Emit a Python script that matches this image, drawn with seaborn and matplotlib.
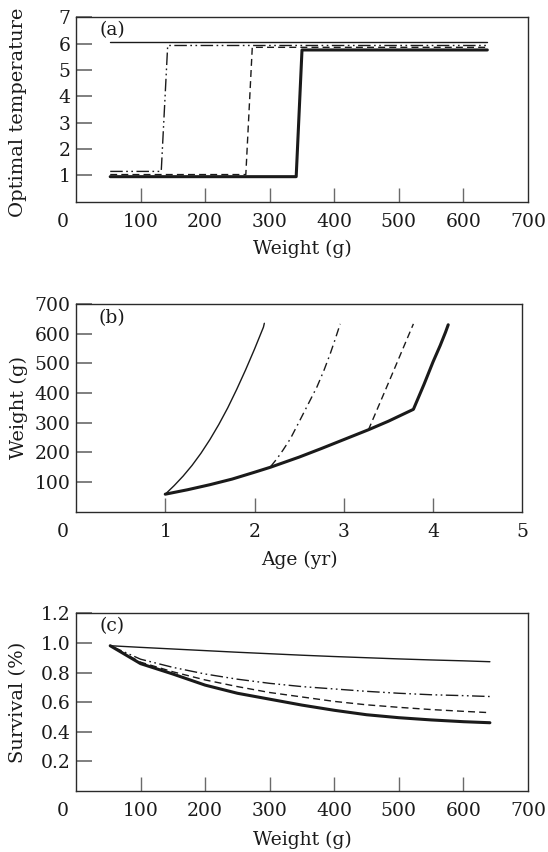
import numpy as np
import pandas as pd
import matplotlib
matplotlib.use("Agg")
import matplotlib.pyplot as plt
import matplotlib.transforms as mtransforms
import seaborn as sns

sns.set_theme(style="white")
plt.rcParams['font.family'] = ['DejaVu Serif']

# ---------------- data ----------------
# (a) optimal temperature vs weight
a_thin_x = [53, 637]
a_thin_y = [6.05, 6.05]
a_dd_x = [53, 132, 142, 637]
a_dd_y = [1.15, 1.15, 5.93, 5.93]
a_dash_x = [53, 263, 273, 637]
a_dash_y = [1.03, 1.03, 5.86, 5.86]
a_thick_x = [53, 341, 350, 637]
a_thick_y = [0.95, 0.95, 5.76, 5.76]

# (b) weight vs age
b_thin_age = [1.0, 1.1, 1.2, 1.3, 1.4, 1.5, 1.6, 1.7, 1.8, 1.9, 2.0, 2.1, 2.11]
b_thin_w = [59, 88, 120, 156, 197, 243, 294, 350, 412, 478, 548, 622, 635]
b_dd_age = [2.18, 2.25, 2.32, 2.4, 2.51, 2.6, 2.70, 2.78, 2.85, 2.9, 2.96]
b_dd_w = [152, 178, 208, 245, 309, 362, 421, 478, 534, 578, 633]
b_dash_age = [3.275, 3.53, 3.78]
b_dash_w = [275, 455, 633]
b_thick_age = [1.0, 1.25, 1.5, 1.75, 2.0, 2.18, 2.5, 2.75, 3.0, 3.275, 3.5, 3.78,
               3.9, 4.0, 4.08, 4.14, 4.17]
b_thick_w = [59, 74, 91, 110, 133, 150, 184, 213, 243, 276, 305, 345,
             430, 505, 560, 605, 630]

# (c) survival vs weight
c_w = [53, 100, 150, 200, 250, 300, 350, 400, 450, 500, 550, 600, 641]
c_thin = [0.981, 0.970, 0.959, 0.948, 0.937, 0.927, 0.917, 0.908, 0.900, 0.892, 0.885, 0.879, 0.873]
c_dd = [0.981, 0.890, 0.835, 0.790, 0.755, 0.727, 0.705, 0.689, 0.673, 0.660, 0.650, 0.644, 0.638]
c_dash = [0.981, 0.870, 0.805, 0.750, 0.705, 0.665, 0.635, 0.605, 0.582, 0.565, 0.550, 0.538, 0.529]
c_thick = [0.981, 0.860, 0.790, 0.715, 0.660, 0.620, 0.580, 0.545, 0.515, 0.495, 0.480, 0.468, 0.461]

INK = "#1a1a1a"
TICK = "#6a6a6a"
DD = (0, (9, 2.5, 1.2, 2.5, 1.2, 2.5))
DASHDOT = (0, (6, 3, 1.2, 3))
DASH = (0, (5, 3))

fig = plt.figure(figsize=(5.48, 8.52), dpi=100)
L = 76 / 548
R = 528 / 548
Rb = 522.3 / 548
axA = fig.add_axes([L, 1 - 201.7 / 852, R - L, (201.7 - 17.3) / 852])
axB = fig.add_axes([L, 1 - 511.7 / 852, Rb - L, (511.7 - 304) / 852])
axC = fig.add_axes([L, 1 - 791 / 852, R - L, (791 - 613.3) / 852])

def draw(ax, x, y, lw, ls):
    df = pd.DataFrame({"x": x, "y": y})
    sns.lineplot(data=df, x="x", y="y", ax=ax, color=INK, lw=lw,
                 linestyle=ls, sort=False, estimator=None)

# panel a
draw(axA, a_thin_x, a_thin_y, 1.0, "-")
draw(axA, a_dd_x, a_dd_y, 1.0, DD)
draw(axA, a_dash_x, a_dash_y, 1.0, DASH)
draw(axA, a_thick_x, a_thick_y, 2.2, "-")

# panel b
draw(axB, b_thin_age, b_thin_w, 1.0, "-")
draw(axB, b_dd_age, b_dd_w, 1.0, DASHDOT)
draw(axB, b_dash_age, b_dash_w, 1.0, DASH)
draw(axB, b_thick_age, b_thick_w, 2.2, "-")

# panel c
draw(axC, c_w, c_thin, 1.0, "-")
draw(axC, c_w, c_dd, 1.0, DD)
draw(axC, c_w, c_dash, 1.0, DASH)
draw(axC, c_w, c_thick, 2.2, "-")

FS = 13.5

def style(ax, xlim, ylim, xticks, xlabels, yticks, ylabels, xlabel, ylabel,
          tag, tag_y, xl_y, yl_y):
    ax.set_xlim(*xlim)
    ax.set_ylim(*ylim)
    ax.set_xticks(xticks)
    ax.set_xticklabels(xlabels, fontsize=FS, color=INK)
    ax.set_yticks(yticks)
    ax.set_yticklabels(ylabels, fontsize=FS, color=INK)
    ax.tick_params(axis="x", bottom=True, direction="in", length=10.3, width=1,
                   color=TICK, pad=8)
    ax.tick_params(axis="y", left=True, direction="in", length=11.3, width=1.2,
                   color=TICK, pad=4)
    for s in ax.spines.values():
        s.set_color("#2a2a2a")
        s.set_linewidth(1.0)
    ax.set_xlabel(xlabel, fontsize=FS, color=INK)
    ax.set_ylabel(ylabel, fontsize=FS + 0.5, color=INK)
    w_px = ax.get_position().width * 548
    ax.yaxis.set_label_coords((27.5 - 76) / w_px, yl_y)
    ax.xaxis.set_label_coords(0.5, xl_y)
    ax.text(0.051, tag_y, tag, transform=ax.transAxes, fontsize=FS,
            color=INK, ha="left", va="center")
    for t in ax.xaxis.get_major_ticks():
        if t.get_loc() in (xlim[0], xlim[1]):
            t.tick1line.set_visible(False)
    lab0 = ax.get_xticklabels()[0]
    lab0.set_transform(lab0.get_transform() +
                       mtransforms.ScaledTranslation(-13.3 / 100, 0, fig.dpi_scale_trans))

style(axA, (0, 700), (0, 7), list(range(0, 701, 100)),
      [str(v) for v in range(0, 701, 100)],
      [1, 2, 3, 4, 5, 6, 7], ["1", "2", "3", "4", "5", "6", "7"],
      "Weight (g)", "Optimal temperature", "(a)", 0.931, -0.205, 0.486)
style(axB, (0, 5), (0, 700), [0, 1, 2, 3, 4, 5], ["0", "1", "2", "3", "4", "5"],
      [100, 200, 300, 400, 500, 600, 700],
      ["100", "200", "300", "400", "500", "600", "700"],
      "Age (yr)", "Weight (g)", "(b)", 0.933, -0.19, 0.5)
style(axC, (0, 700), (0, 1.2), list(range(0, 701, 100)),
      [str(v) for v in range(0, 701, 100)],
      [0.2, 0.4, 0.6, 0.8, 1.0, 1.2], ["0.2", "0.4", "0.6", "0.8", "1.0", "1.2"],
      "Weight (g)", "Survival (%)", "(c)", 0.926, -0.225, 0.5)

fig.savefig("out.png", dpi=100)
